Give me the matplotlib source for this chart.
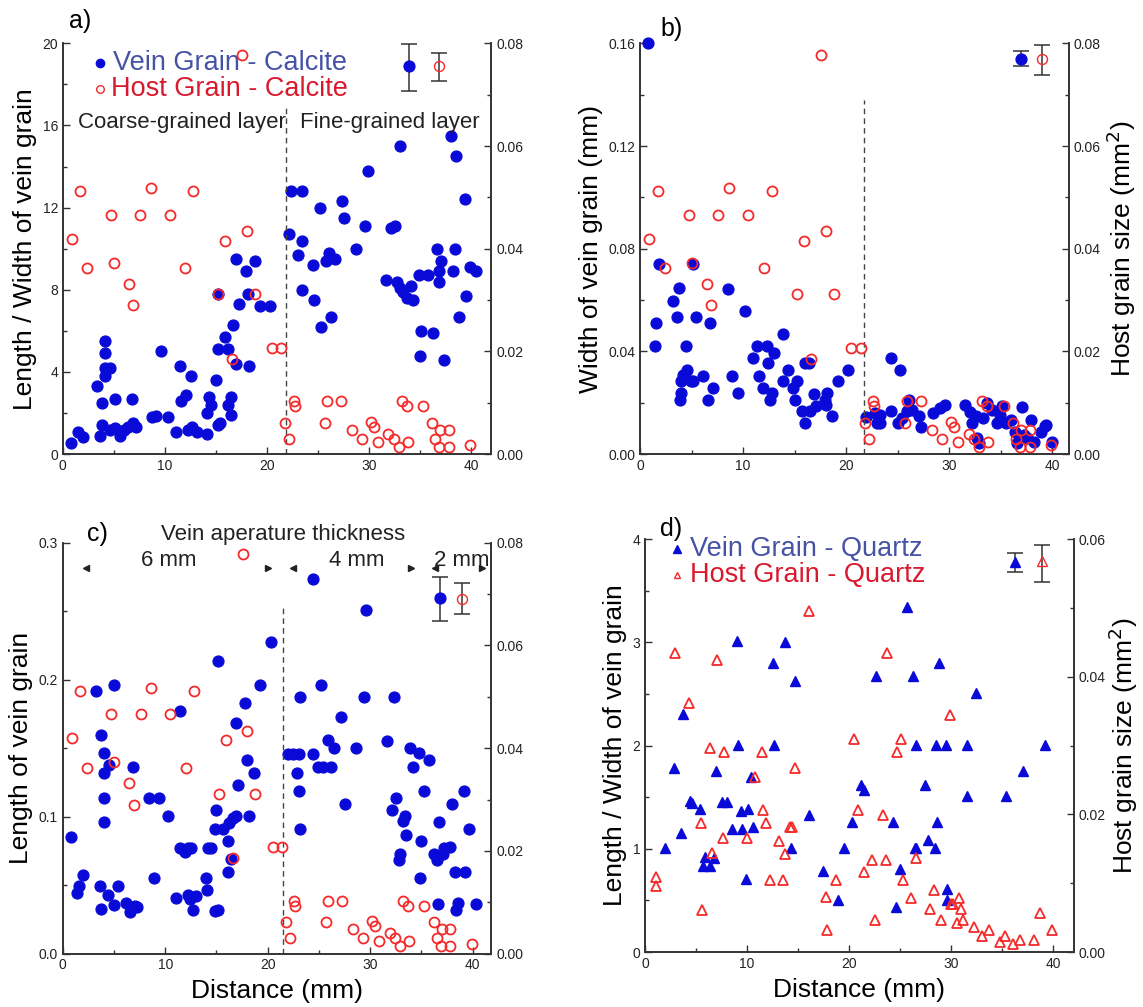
import matplotlib
matplotlib.use("Agg")
import matplotlib.pyplot as plt
from matplotlib.ticker import MultipleLocator, FormatStrFormatter

plt.rcParams['font.family'] = ['Liberation Sans', 'DejaVu Sans']

# ---- data (distance in mm) ----
# host grain size of calcite (mm^2), same set shown in panels a, b and c
host_calcite_x = [0.9, 1.7, 2.4, 4.7, 5.0, 6.5, 6.9, 7.6, 8.6, 10.5, 12.0, 12.8, 15.2, 15.9,
                  16.6, 17.6, 18.0, 18.8, 20.5, 21.4, 21.8, 22.2, 22.6, 22.7, 25.7, 25.9,
                  27.3, 28.3, 29.3, 30.2, 30.5, 30.9, 31.9, 32.4, 32.9, 33.2, 33.7, 33.8,
                  35.3, 36.2, 36.5, 37.0, 36.9, 37.8, 37.8, 39.9]
host_calcite_size = [0.0419, 0.0512, 0.0362, 0.0466, 0.0373, 0.0332, 0.0290, 0.0466, 0.0518,
                     0.0466, 0.0362, 0.0512, 0.0311, 0.0415, 0.0186, 0.0778, 0.0434, 0.0311,
                     0.0207, 0.0207, 0.0061, 0.0030, 0.0103, 0.0093, 0.0061, 0.0103, 0.0103,
                     0.0047, 0.0030, 0.0063, 0.0053, 0.0024, 0.0040, 0.0030, 0.0014, 0.0103,
                     0.0093, 0.0024, 0.0093, 0.0061, 0.0030, 0.0047, 0.0014, 0.0047, 0.0014,
                     0.0018]

# a) length / width of calcite vein grains
a_vein_x = [0.8, 1.5, 2.0, 3.3, 3.8, 3.6, 3.8, 4.1, 4.1, 4.1, 4.1, 4.6, 4.6, 5.1, 5.1, 5.6,
            6.0, 6.4, 6.8, 6.9, 7.2, 8.7, 9.1, 9.6, 10.3, 11.1, 11.5, 11.6, 12.1, 12.6, 12.3,
            12.7, 13.1, 14.1, 14.1, 14.3, 14.5, 15.0, 15.2, 15.2, 15.2, 15.4, 15.9, 16.2,
            16.2, 16.5, 16.5, 16.7, 17.0, 17.0, 17.3, 17.9, 18.1, 18.2, 18.8, 19.3, 20.3,
            22.2, 22.4, 23.4, 23.0, 23.4, 23.4, 24.5, 24.6, 25.2, 25.3, 25.8, 26.1, 26.3,
            26.7, 27.4, 27.5, 28.7, 29.6, 29.9, 31.7, 32.2, 32.5, 32.7, 33.0, 33.0, 33.3,
            33.7, 34.1, 34.3, 34.9, 35.1, 35.0, 35.8, 36.3, 36.7, 36.9, 36.9, 37.1, 37.3,
            38.0, 38.4, 38.5, 38.2, 38.8, 39.4, 39.5, 39.9, 40.5]
a_vein_ratio = [0.52, 1.1, 0.85, 3.3, 2.5, 0.9, 1.4, 5.5, 4.9, 4.2, 3.8, 4.2, 1.2, 2.7, 1.25,
                0.9, 1.2, 1.3, 2.7, 1.5, 1.3, 1.8, 1.85, 5.0, 1.8, 1.1, 4.3, 2.6, 2.9, 3.8,
                1.2, 1.3, 1.1, 1.0, 2.0, 2.8, 2.4, 3.6, 5.1, 7.8, 1.4, 1.5, 5.7, 5.1, 2.4,
                2.8, 1.9, 6.3, 9.5, 4.4, 7.3, 8.9, 7.8, 4.3, 9.4, 7.2, 7.2,
                10.7, 12.8, 12.8, 9.7, 10.4, 8.0, 9.2, 7.5, 12.0, 6.2, 9.4, 9.8, 6.7,
                9.5, 12.3, 11.5, 10.0, 11.1, 13.8, 8.5, 11.0, 11.1, 8.4, 15.0, 8.1, 7.9,
                7.6, 8.2, 7.5, 8.7, 6.0, 4.8, 8.7, 5.9, 10.0, 8.9, 8.4, 9.4, 4.6,
                15.5, 10.0, 14.5, 8.9, 6.7, 12.4, 7.7, 9.1, 8.9]

# b) width of calcite vein grains (mm)
b_vein_x = [0.8, 1.56, 1.45, 1.8, 3.2, 3.55, 3.8, 4.0, 3.9, 4.0, 4.2, 4.5, 4.6, 4.9, 5.1,
            5.4, 5.1, 6.15, 6.6, 6.8, 7.06, 8.5, 8.9, 9.5, 10.2, 11.0, 11.3, 11.5, 11.9,
            12.3, 12.4, 12.6, 12.8, 13.0, 13.9, 13.9, 14.4, 14.85, 15.0, 15.2, 15.7, 16.0,
            16.0, 16.4, 16.5, 16.9, 17.1, 17.9, 18.1, 18.0, 18.6, 19.2, 20.2,
            21.9, 22.8, 23.0, 23.3, 23.3, 24.4, 24.4, 25.0, 25.2, 25.4, 25.9, 26.1, 26.4,
            27.1, 27.3, 28.4, 29.1, 29.6, 31.5, 32.0, 32.2, 32.6, 32.7, 32.9, 33.3, 33.7,
            34.2, 34.6, 34.9, 35.1, 35.5, 36.0, 36.4, 36.6, 37.1, 37.3, 37.6, 37.9, 38.2,
            38.9, 39.3, 39.4, 40.0]
b_vein_width = [0.160, 0.0511, 0.042, 0.0739, 0.0598, 0.0533, 0.0648, 0.0238, 0.0212, 0.0284,
                0.031, 0.042, 0.0329, 0.0284, 0.0739, 0.0533, 0.0284, 0.0303, 0.0212, 0.0511,
                0.0258, 0.0645, 0.0303, 0.0238, 0.0557, 0.0375, 0.042, 0.0303, 0.0258, 0.042,
                0.0355, 0.0212, 0.0238, 0.0394, 0.0466, 0.0284, 0.0329, 0.0258, 0.0212, 0.0284,
                0.0169, 0.0121, 0.0355, 0.0355, 0.0169, 0.0234, 0.0186, 0.0212, 0.0238, 0.0193,
                0.015, 0.0284, 0.0329,
                0.0143, 0.016, 0.0121, 0.0121, 0.0153, 0.0375, 0.0169, 0.0121, 0.0329, 0.014,
                0.0169, 0.0212, 0.0173, 0.015, 0.0104, 0.016, 0.018, 0.0193, 0.0193, 0.0166,
                0.0121, 0.015, 0.0062, 0.0043, 0.014, 0.0199, 0.0173, 0.0121, 0.0153, 0.0186,
                0.0121, 0.0134, 0.0088, 0.0043, 0.0182, 0.0075, 0.0062, 0.0134, 0.0049, 0.0088,
                0.0108, 0.0114, 0.0049]

# c) length of calcite vein grains
c_vein_x = [0.75, 1.4, 1.6, 2.0, 3.2, 3.6, 3.7, 3.75, 4.0, 4.0, 4.0, 4.0, 4.4, 4.5, 5.0, 5.0,
            5.4, 6.2, 6.6, 6.8, 7.0, 7.2, 8.4, 8.9, 9.4, 10.3, 11.0, 11.4, 11.4, 11.9, 12.2,
            12.5, 12.2, 12.4, 12.7, 13.0, 14.0, 14.1, 14.2, 14.5, 14.9, 15.1, 15.0, 14.9,
            15.1, 15.6, 16.1, 16.1, 16.2, 16.4, 16.6, 16.9, 16.9, 17.1, 17.8, 18.0, 18.2,
            18.7, 19.2, 20.3,
            22.0, 22.5, 23.1, 22.9, 23.1, 23.2, 23.2, 24.4, 24.4, 24.9, 25.2, 25.4, 25.9,
            26.2, 26.5, 27.2, 27.5, 28.6, 29.4, 29.6, 31.6, 32.1, 32.3, 32.5, 32.8, 32.9,
            33.2, 33.4, 33.5, 33.9, 34.2, 34.8, 35.0, 34.9, 35.3, 35.7, 36.2, 36.6, 36.7,
            36.5, 37.1, 37.2, 37.8, 38.0, 38.3, 38.4, 38.6, 39.3, 39.2, 39.7, 40.3]
c_vein_length = [0.0851, 0.0442, 0.0491, 0.0576, 0.192, 0.0491, 0.0326, 0.1597, 0.1463, 0.1322,
                 0.114, 0.0958, 0.043, 0.1378, 0.196, 0.0357, 0.0491, 0.037, 0.0301, 0.1366,
                 0.0345, 0.0338, 0.114, 0.0552, 0.114, 0.1002, 0.0406, 0.0771, 0.1775, 0.0739,
                 0.0771, 0.0771, 0.043, 0.0401, 0.0321, 0.0418, 0.0552, 0.0462, 0.0771, 0.0771,
                 0.0309, 0.0321, 0.105, 0.0909, 0.214, 0.0909, 0.0819, 0.0593, 0.0953, 0.069,
                 0.099, 0.1002, 0.1687, 0.1232, 0.1828, 0.1415, 0.1002, 0.1322, 0.196, 0.2278,
                 0.1459, 0.1459, 0.1459, 0.1322, 0.1184, 0.0909, 0.1872, 0.2735, 0.1459, 0.1366,
                 0.196, 0.1366, 0.156, 0.1366, 0.15, 0.1731, 0.1092, 0.1505, 0.1872, 0.2509,
                 0.1553, 0.105, 0.1872, 0.114, 0.0686, 0.0729, 0.0965, 0.1002, 0.0868, 0.1505,
                 0.1366, 0.1463, 0.0819, 0.0552, 0.1184, 0.1415, 0.0729, 0.0365, 0.0958, 0.0686,
                 0.0729, 0.0771, 0.0775, 0.1092, 0.0593, 0.0321, 0.037, 0.0593, 0.1184, 0.0909,
                 0.0365]

# d) quartz: length / width of vein grains and host grain size
d_vein_x = [2.0, 2.8, 3.5, 3.7, 4.4, 4.6, 5.4, 5.7, 5.9, 6.4, 6.8, 7.0, 7.5, 8.0, 8.5, 9.0,
            9.1, 9.5, 9.4, 9.9, 10.1, 10.4, 10.6, 12.5, 12.6, 13.7, 14.3, 14.7, 16.1, 17.4,
            18.9, 19.5, 20.3, 21.2, 21.5, 22.6, 24.3, 24.6, 25.0, 25.7, 26.3, 26.5, 26.6,
            26.6, 27.4, 27.7, 28.4, 28.5, 28.6, 28.8, 29.5, 29.6, 29.6, 31.6, 31.6, 32.4,
            35.4, 37.0, 39.2]
d_vein_ratio = [1.01, 1.785, 1.154, 2.302, 1.462, 1.445, 1.381, 0.831, 0.922, 0.831, 0.912,
                1.756, 1.455, 1.455, 1.196, 3.014, 2.005, 1.196, 1.368, 0.711, 1.39, 1.698,
                1.213, 2.803, 2.005, 3.007, 1.009, 2.629, 1.332, 0.786, 0.501, 1.009, 1.261,
                1.617, 1.568, 2.674, 1.261, 0.437, 0.808, 3.34, 2.674, 1.009, 1.009, 2.005,
                1.617, 1.09, 1.009, 2.005, 1.261, 2.803, 2.005, 0.614, 0.501, 1.51, 2.005,
                2.506, 1.51, 1.756, 2.005]
d_host_x = [1.1, 1.1, 2.9, 4.3, 5.5, 5.6, 6.4, 6.6, 7.1, 7.7, 7.6, 10.0, 10.8, 11.5, 11.6,
            11.9, 12.2, 13.1, 13.5, 13.7, 14.2, 14.4, 14.7, 16.1, 17.7, 17.8, 18.7, 20.5,
            20.9, 21.5, 22.2, 22.5, 23.3, 23.6, 23.7, 24.7, 25.1, 25.3, 26.1, 26.6, 27.9,
            28.3, 29.0, 29.9, 30.0, 30.2, 30.8, 30.6, 31.0, 31.2, 32.2, 33.0, 33.7, 34.8,
            35.3, 36.1, 36.7, 38.1, 38.7, 39.9]
d_host_size = [0.0109, 0.0096, 0.0434, 0.0362, 0.0187, 0.0061, 0.0297, 0.0144, 0.0424, 0.029,
               0.0165, 0.0165, 0.0254, 0.029, 0.0207, 0.0187, 0.0104, 0.0161, 0.0104, 0.0143,
               0.0182, 0.0182, 0.0268, 0.0496, 0.008, 0.0032, 0.0104, 0.031, 0.0207, 0.0116,
               0.0133, 0.0047, 0.0199, 0.0134, 0.0434, 0.029, 0.031, 0.0104, 0.0078, 0.0137,
               0.0062, 0.009, 0.0047, 0.0344, 0.007, 0.007, 0.0078, 0.0042, 0.0063, 0.0047,
               0.0036, 0.0024, 0.0032, 0.0015, 0.0024, 0.0011, 0.0018, 0.0018, 0.0056, 0.0032]

# representative error bars: x, value, lower, upper
a_err_vein = [33.9, 18.9, 17.7, 19.97]
a_err_host = [36.9, 0.0756, 0.0727, 0.0782]
b_err_vein = [37.0, 0.1539, 0.151, 0.157]
b_err_host = [39.0, 0.0770, 0.0739, 0.0797]
c_err_vein = [36.8, 0.2594, 0.2428, 0.2747]
c_err_host = [39.0, 0.0690, 0.0661, 0.0722]
d_err_vein = [36.3, 3.783, 3.686, 3.870]
d_err_host = [38.9, 0.0568, 0.0538, 0.0592]

BLUE = '#0a0ad8'
RED = '#f52a2a'
TXT_BLUE = '#4552a6'
TXT_RED = '#d81a2e'
AXC = '#333333'
LAB = 19


def style(ax, twin, xmax, ymax, ymajor, yminor, yfmt, hmax, hmajor, hminor):
    ax.set_xlim(0, xmax)
    ax.set_ylim(0, ymax)
    twin.set_ylim(0, hmax)
    ax.xaxis.set_major_locator(MultipleLocator(10))
    ax.xaxis.set_minor_locator(MultipleLocator(5))
    ax.yaxis.set_major_locator(MultipleLocator(ymajor))
    ax.yaxis.set_minor_locator(MultipleLocator(yminor))
    ax.yaxis.set_major_formatter(FormatStrFormatter(yfmt))
    twin.yaxis.set_major_locator(MultipleLocator(hmajor))
    twin.yaxis.set_minor_locator(MultipleLocator(hminor))
    twin.yaxis.set_major_formatter(FormatStrFormatter('%.2f'))
    for a in (ax, twin):
        a.spines['top'].set_visible(False)
        for s in ('left', 'right', 'bottom'):
            a.spines[s].set_color(AXC)
            a.spines[s].set_linewidth(1.2)
        a.tick_params(which='both', direction='in', colors=AXC, labelcolor='#222222',
                      labelsize=10)
        a.tick_params(which='major', length=5, width=1)
        a.tick_params(which='minor', length=3, width=1)


def err(ax, e, fmt, **kw):
    ax.errorbar([e[0]], [e[1]], yerr=[[e[1] - e[2]], [e[3] - e[1]]], fmt=fmt,
                ecolor='#333333', elinewidth=1.1, capsize=6, capthick=1.1, **kw)


fig = plt.figure(figsize=(11.43, 10.07), dpi=100)

dot = dict(marker='o', linestyle='none', markersize=7.8, color=BLUE)
ring = dict(marker='o', linestyle='none', markersize=7.2, markerfacecolor='none',
            markeredgecolor=RED, markeredgewidth=1.3)

# ---------- a) ----------
ax = fig.add_axes([0.055, 0.549, 0.375, 0.408])
tw = ax.twinx()
style(ax, tw, 42, 20, 4, 2, '%d', 0.08, 0.02, 0.01)
ax.plot(a_vein_x, a_vein_ratio, **dot)
tw.plot(host_calcite_x, host_calcite_size, **ring)
err(ax, a_err_vein, 'o', color=BLUE, markersize=7.8)
err(tw, a_err_host, 'o', markerfacecolor='none', markeredgecolor=RED, markersize=7.2)
ax.plot([21.9, 21.9], [0, 17.05], color='#444444', lw=1, dashes=(4, 3))
ax.set_ylabel('Length / Width of vein grain', fontsize=LAB)
ax.text(1.5, 16.15, 'Coarse-grained layer', fontsize=16, va='center', color='#222222')
ax.text(23.2, 16.15, 'Fine-grained layer', fontsize=16, va='center', color='#222222')
ax.plot([0.086], [0.951], 'o', color=BLUE, markersize=6, transform=ax.transAxes)
ax.text(0.118, 0.951, 'Vein Grain - Calcite', color=TXT_BLUE, fontsize=19.5, va='center',
        transform=ax.transAxes)
ax.plot([0.086], [0.888], 'o', markerfacecolor='none', markeredgecolor=RED, markersize=5.5,
        transform=ax.transAxes)
ax.text(0.113, 0.888, 'Host Grain - Calcite', color=TXT_RED, fontsize=19.5, va='center',
        transform=ax.transAxes)
ax.text(0.015, 1.055, 'a)', fontsize=18, va='center', transform=ax.transAxes)

# ---------- b) ----------
ax = fig.add_axes([0.56, 0.549, 0.375, 0.408])
tw = ax.twinx()
style(ax, tw, 41.6, 0.16, 0.04, 0.02, '%.2f', 0.08, 0.02, 0.01)
ax.plot(b_vein_x, b_vein_width, clip_on=False, **dot)
tw.plot(host_calcite_x, host_calcite_size, **ring)
err(ax, b_err_vein, 'o', color=BLUE, markersize=7.8)
err(tw, b_err_host, 'o', markerfacecolor='none', markeredgecolor=RED, markersize=7.2)
ax.plot([21.7, 21.7], [0, 0.138], color='#444444', lw=1, dashes=(4, 3))
ax.set_ylabel('Width of vein grain (mm)', fontsize=LAB)
tw.set_ylabel('Host grain size (mm$^2$)', fontsize=LAB, labelpad=3)
ax.text(0.047, 1.035, 'b)', fontsize=18, va='center', transform=ax.transAxes)

# ---------- c) ----------
ax = fig.add_axes([0.055, 0.053, 0.375, 0.408])
tw = ax.twinx()
style(ax, tw, 41.85, 0.3, 0.1, 0.05, '%.1f', 0.08, 0.02, 0.01)
ax.plot(c_vein_x, c_vein_length, **dot)
tw.plot(host_calcite_x, host_calcite_size, **ring)
err(ax, c_err_vein, 'o', color=BLUE, markersize=7.8)
err(tw, c_err_host, 'o', markerfacecolor='none', markeredgecolor=RED, markersize=7.2)
ax.plot([21.5, 21.5], [0, 0.255], color='#444444', lw=1, dashes=(4, 3))
ax.set_ylabel('Length of vein grain', fontsize=LAB)
ax.set_xlabel('Distance (mm)', fontsize=LAB, labelpad=5)
ax.text(21.5, 0.306, 'Vein aperature thickness', fontsize=16, ha='center', va='center',
        color='#222222')
for label, xl, x0, x1 in [('6 mm', 10.3, 2.3, 20.0), ('4 mm', 28.7, 22.5, 34.0),
                          ('2 mm', 38.9, 36.3, 40.9)]:
    ax.text(xl, 0.287, label, fontsize=16, ha='center', va='center', color='#222222')
    ax.plot([x0], [0.2815], marker='<', color='#222222', markersize=4, clip_on=False)
    ax.plot([x1], [0.2815], marker='>', color='#222222', markersize=4, clip_on=False)
ax.text(0.056, 1.022, 'c)', fontsize=18, va='center', transform=ax.transAxes)

# ---------- d) ----------
ax = fig.add_axes([0.5643, 0.0546, 0.375, 0.41])
tw = ax.twinx()
style(ax, tw, 42, 4, 1, 0.5, '%d', 0.06, 0.02, 0.01)
ax.plot(d_vein_x, d_vein_ratio, marker='^', linestyle='none', markersize=7.5, color=BLUE)
tw.plot(d_host_x, d_host_size, marker='^', linestyle='none', markersize=7,
        markerfacecolor='none', markeredgecolor=RED, markeredgewidth=1.3)
err(ax, d_err_vein, '^', color=BLUE, markersize=7.5)
err(tw, d_err_host, '^', markerfacecolor='none', markeredgecolor=RED, markersize=7)
ax.set_ylabel('Length / Width of vein grain', fontsize=LAB)
tw.set_ylabel('Host grain size (mm$^2$)', fontsize=LAB, labelpad=1)
ax.set_xlabel('Distance (mm)', fontsize=LAB, labelpad=5)
ax.plot([0.075], [0.975], '^', color=BLUE, markersize=5.5, transform=ax.transAxes)
ax.text(0.104, 0.975, 'Vein Grain - Quartz', color=TXT_BLUE, fontsize=19.5, va='center',
        transform=ax.transAxes)
ax.plot([0.075], [0.912], '^', markerfacecolor='none', markeredgecolor=RED, markersize=5,
        transform=ax.transAxes)
ax.text(0.104, 0.912, 'Host Grain - Quartz', color=TXT_RED, fontsize=19.5, va='center',
        transform=ax.transAxes)
ax.text(0.036, 1.025, 'd)', fontsize=18, va='center', transform=ax.transAxes)

fig.savefig('out.png', dpi=100, facecolor='white')
